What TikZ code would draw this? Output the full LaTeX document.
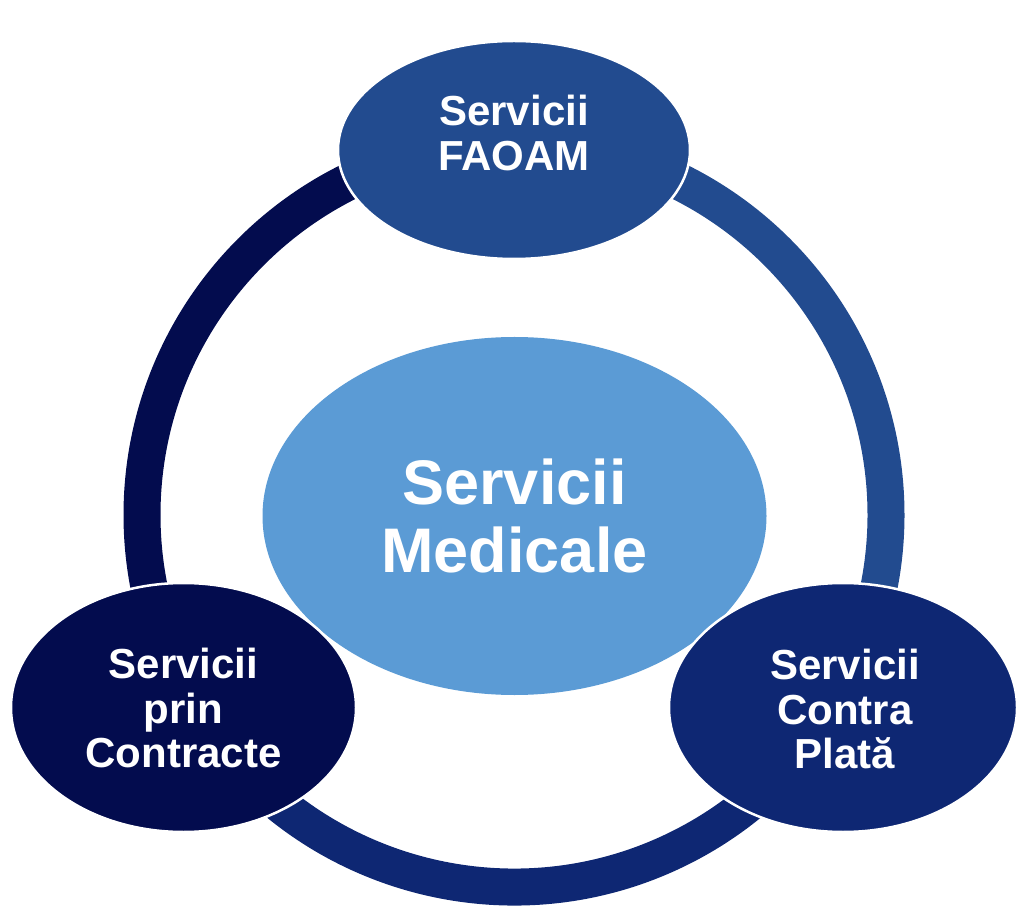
\documentclass[tikz,border=0pt]{standalone}
\usepackage{fontspec}
\setmainfont{Liberation Sans}
\usetikzlibrary{shapes.geometric}

\definecolor{faoamblue}{RGB}{34,75,143}
\definecolor{contractnavy}{RGB}{3,12,78}
\definecolor{platablue}{RGB}{14,39,115}
\definecolor{medblue}{RGB}{91,155,213}

\tikzset{
	serv/.style={draw=white,line width=2.5pt,ellipse,inner sep=0pt},
	servtext/.style={text=white,align=center,font=\bfseries\fontsize{42}{44.5}\selectfont},
	ring/.style={line width=37pt}
}

\begin{document}
\begin{tikzpicture}[x=1pt,y=1pt]
			\useasboundingbox (0,0) rectangle (1017,906);
			\coordinate (c) at (514,391);
			\draw[ring,contractnavy] ([shift={(90:372)}]c) arc[start angle=90,end angle=210,radius=372];
			\draw[ring,faoamblue] ([shift={(90:372)}]c) arc[start angle=90,end angle=-30,radius=372];
			\draw[ring,platablue] ([shift={(210:372)}]c) arc[start angle=210,end angle=330,radius=372];
			\node[serv,fill=medblue,minimum width=504pt,minimum height=358pt,draw=none] (med) at (514.5,390) {};
			\node[serv,fill=faoamblue,minimum width=352pt,minimum height=218pt] (faoam) at (514,756) {};
			\node[serv,fill=contractnavy,minimum width=345pt,minimum height=249pt] (contr) at (183.5,198.5) {};
			\node[serv,fill=platablue,minimum width=348pt,minimum height=249pt] (plata) at (843,198.5) {};
			\node[servtext,font=\bfseries\fontsize{63}{68}\selectfont] (medt) at (med) {Servicii\\Medicale};
			\node[servtext] (faoamt) at (514,773) {Servicii\\FAOAM};
			\node[servtext] (contrt) at (183.5,198) {Servicii\\prin\\Contracte};
			\node[servtext] (platat) at (845,197) {Servicii\\Contra\\Plată};
		\end{tikzpicture}
\end{document}
